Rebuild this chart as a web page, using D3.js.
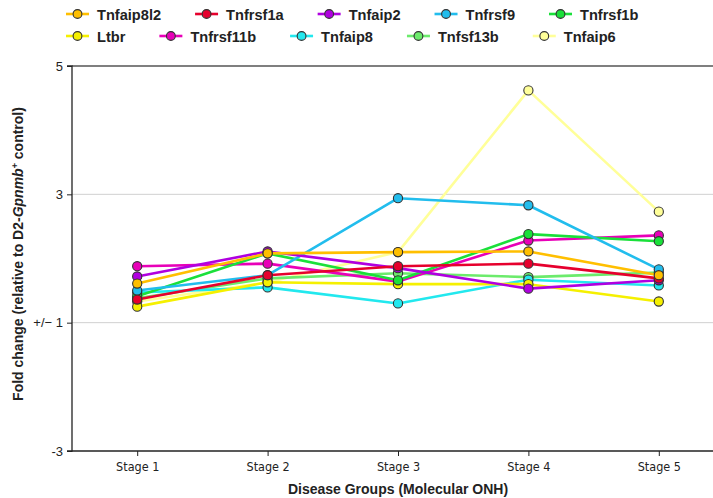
<!DOCTYPE html>
<html><head><meta charset="utf-8">
<script src="https://cdn.jsdelivr.net/npm/d3@7"></script>
<style>
body{margin:0;background:#fff;}
svg{display:block;font-family:"Liberation Sans",Arial,sans-serif;}
</style></head>
<body><svg id="c" width="713" height="498"></svg>
<script>
const stages = ["Stage 1","Stage 2","Stage 3","Stage 4","Stage 5"];
const seriesNames = ["Tnfaip8l2","Tnfrsf1a","Tnfaip2","Tnfrsf9","Tnfrsf1b","Ltbr","Tnfrsf11b","Tnfaip8","Tnfsf13b","Tnfaip6"];
const seriesColors = ["#FFBF00","#E6002D","#B000E0","#22BDED","#1AE03A","#F5F000","#E800B8","#22E8EE","#6CEB6C","#FFFF99"];
const tnfaip8l2 = [1.61,2.08,2.10,2.11,1.74];
const tnfrsf1a  = [1.36,1.74,1.88,1.92,1.69];
const tnfaip2   = [1.72,2.11,1.85,1.53,1.66];
const tnfrsf9   = [1.50,1.74,2.94,2.83,1.83];
const tnfrsf1b  = [1.41,2.08,1.66,2.38,2.27];
const ltbr      = [1.25,1.63,1.60,1.60,1.33];
const tnfrsf11b = [1.88,1.92,1.64,2.28,2.36];
const tnfaip8   = [1.47,1.55,1.30,1.67,1.58];
const tnfsf13b  = [1.38,1.69,1.77,1.71,1.78];
const tnfaip6   = [1.33,1.63,2.10,4.62,2.73];
const seriesValues = [tnfaip8l2,tnfrsf1a,tnfaip2,tnfrsf9,tnfrsf1b,ltbr,tnfrsf11b,tnfaip8,tnfsf13b,tnfaip6];
const yTicks = [-3, 1, 3, 5];
const yTickLabels = ["-3","+/\u2212 1","3","5"];

// fold-change transform: values >= 1 map to fc-1, values <= -1 map to fc+1
const fcT = v => v >= 0 ? v - 1 : v + 1;

const svg = d3.select("#c");
const L = 72, R = 724, T = 66, B = 451;
const x = d3.scalePoint().domain(stages).range([L, R]).padding(0.5);
const y = d3.scaleLinear().domain([fcT(-3), fcT(5)]).range([B, T]);

// gridlines
svg.append("g").selectAll("line").data(yTicks.filter(v => v !== -3 && v !== 5)).join("line")
  .attr("x1", L).attr("x2", 713).attr("y1", d => y(fcT(d))).attr("y2", d => y(fcT(d)))
  .attr("stroke", "#d0d0d0").attr("stroke-width", 1);
// top border
svg.append("line").attr("x1", L).attr("x2", 713).attr("y1", y(fcT(5))).attr("y2", y(fcT(5)))
  .attr("stroke", "#555").attr("stroke-width", 1.5);

// y axis
const yAxis = d3.axisLeft(y).tickValues(yTicks.map(fcT)).tickSize(5)
  .tickFormat((d, i) => yTickLabels[i]);
const gy = svg.append("g").attr("transform", `translate(${L},0)`).call(yAxis);
gy.select(".domain").attr("stroke", "#222").attr("stroke-width", 1.3).attr("d", `M-5,${T}H0V${B}H-5`);
gy.selectAll(".tick line").attr("stroke", "#222");
gy.selectAll("text").attr("font-family", "'Liberation Sans',Arial,sans-serif").attr("font-size", 13).attr("fill", "#222").attr("x", -9);

// x axis
const xAxis = d3.axisBottom(x).tickSize(5).tickSizeOuter(0);
const gx = svg.append("g").attr("transform", `translate(0,${B})`).call(xAxis);
gx.select(".domain").attr("stroke", "#222").attr("stroke-width", 1.3).attr("d", `M${L},0H713`);
gx.selectAll(".tick line").attr("stroke", "#222");
gx.selectAll("text").attr("font-family", "'Liberation Sans Narrow','DejaVu Sans Condensed',sans-serif")
  .attr("font-size", 12.5).attr("fill", "#222").attr("dy", "0.9em").attr("y", 9);

// draw series in reverse order so the first series sits on top
const order = d3.range(seriesValues.length).reverse();
const line = d3.line().x((d, i) => x(stages[i])).y(d => y(fcT(d)));
svg.append("g").selectAll("path").data(order).join("path")
  .attr("d", i => line(seriesValues[i])).attr("fill", "none")
  .attr("stroke", i => seriesColors[i]).attr("stroke-width", 2.6)
  .attr("stroke-linejoin", "round");
order.forEach(si => {
  svg.append("g").selectAll("circle").data(seriesValues[si]).join("circle")
    .attr("cx", (d, i) => x(stages[i])).attr("cy", d => y(fcT(d))).attr("r", 4.6)
    .attr("fill", seriesColors[si]).attr("stroke", "#333").attr("stroke-width", 1.1);
});

// axis titles
svg.append("text").attr("x", (L + R) / 2).attr("y", 494).attr("text-anchor", "middle")
  .attr("font-weight", "bold").attr("font-size", 14).attr("fill", "#222")
  .text("Disease Groups (Molecular ONH)");
const yt = svg.append("text").attr("transform", "translate(23,254) rotate(-90)")
  .attr("text-anchor", "middle").attr("font-weight", "bold").attr("font-size", 14).attr("fill", "#222");
yt.append("tspan").text("Fold change (relative to D2-");
yt.append("tspan").attr("font-style", "italic").text("Gpnmb");
yt.append("tspan").attr("font-size", 9).attr("dy", -5).text("+");
yt.append("tspan").attr("dy", 5).text(" control)");

// legend (flow layout, 5 per row)
const leg = svg.append("g");
const perRow = 5, rowY = [14, 36], gap = 34;
let cx = 66;
seriesNames.forEach((name, i) => {
  const r = Math.floor(i / perRow);
  if (i % perRow === 0) cx = 66;
  const g = leg.append("g").attr("transform", `translate(${cx},${rowY[r]})`);
  g.append("line").attr("x1", 0).attr("x2", 23).attr("y1", 0).attr("y2", 0)
    .attr("stroke", seriesColors[i]).attr("stroke-width", 2.6);
  g.append("circle").attr("cx", 11.5).attr("cy", 0).attr("r", 4.4)
    .attr("fill", seriesColors[i]).attr("stroke", "#333").attr("stroke-width", 1.1);
  const t = g.append("text").attr("x", 31).attr("y", 5.5).attr("font-weight", "bold")
    .attr("font-size", 14.6).attr("fill", "#222").text(name);
  cx += 31 + t.node().getComputedTextLength() + gap;
});
</script></body></html>
